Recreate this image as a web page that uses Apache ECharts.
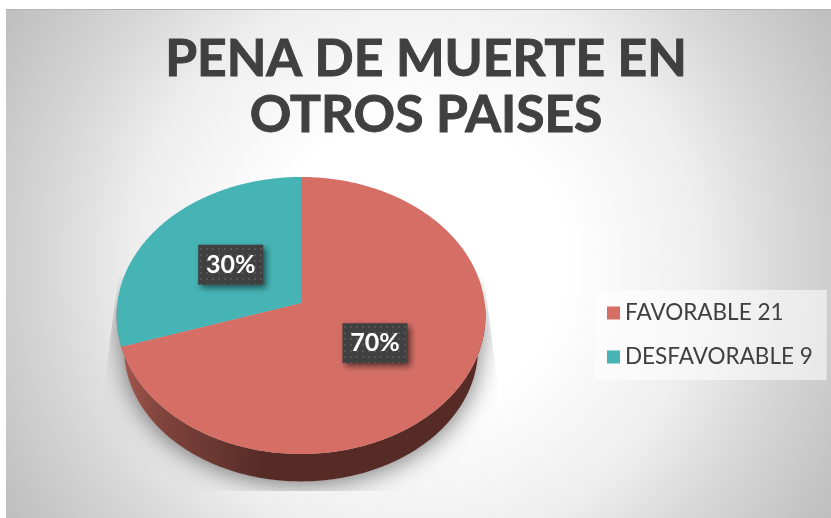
<!DOCTYPE html>
<html>
<head>
<meta charset="utf-8">
<title>PENA DE MUERTE EN OTROS PAISES</title>
<script src="https://cdn.jsdelivr.net/npm/echarts@6/dist/echarts.min.js"></script>
<style>
  html, body { margin: 0; padding: 0; background: #fff; }
  #chart { width: 831px; height: 518px; }
</style>
</head>
<body>
<div id="chart"></div>
<script>
const titleLines = ["PENA DE MUERTE EN", "OTROS PAISES"];
const categories = ["FAVORABLE 21", "DESFAVORABLE 9"];
const values = [21, 9];
const percentLabels = ["70%", "30%"];
const sliceColors = ["#d56f66", "#46b3b5"];

const total = values.reduce((a, b) => a + b, 0);

// tilted disc: cx/cy is the apex, k is the perspective
const disc = { cx: 301, cy: 303, rx: 183.7, ry: 137.4, k: 0.0903, depth: 34, bottomScale: 0.96 };

function project(theta, r, dy) {
  const u = r * Math.sin(theta);
  const v = r * Math.cos(theta);
  const w = 1 + disc.k * v;
  return [disc.cx + disc.rx * u / w, disc.cy - disc.ry * v / w + (dy || 0)];
}

function arcPoints(from, to, dy, r) {
  const pts = [];
  const n = Math.ceil(Math.abs(to - from) * 60);
  for (let i = 0; i <= n; i++) {
    pts.push(project(from + (to - from) * i / n, r || 1, dy));
  }
  return pts;
}

// small dotted tile for the label boxes
const tile = document.createElement("canvas");
tile.width = 6;
tile.height = 6;
const tileCtx = tile.getContext("2d");
tileCtx.fillStyle = "#404040";
tileCtx.fillRect(0, 0, 6, 6);
tileCtx.fillStyle = "#555555";
tileCtx.fillRect(2, 2, 2, 2);

function renderSlice(index) {
  return function (params, api) {
    const before = values.slice(0, index).reduce((a, b) => a + b, 0);
    const from = before / total * Math.PI * 2;
    const to = (before + api.value(0)) / total * Math.PI * 2;
    const mid = project((from + to) / 2, 0.485);
    return {
      type: "group",
      children: [
        {
          type: "polygon",
          shape: { points: [project(0, 0)].concat(arcPoints(from, to)) },
          style: { fill: sliceColors[index] }
        },
        {
          type: "rect",
          shape: { x: mid[0] - 32.5, y: mid[1] - 20, width: 65, height: 40 },
          style: {
            fill: { image: tile, repeat: "repeat" },
            shadowBlur: 6,
            shadowOffsetX: 3,
            shadowOffsetY: 3,
            shadowColor: "rgba(0,0,0,0.55)"
          }
        },
        {
          type: "text",
          x: mid[0],
          y: mid[1],
          style: {
            text: percentLabels[index],
            fill: "#ffffff",
            font: "bold 25px Lato",
            align: "center",
            verticalAlign: "middle"
          }
        }
      ]
    };
  };
}

function renderWall() {
  const outer = arcPoints(Math.PI * 0.5, Math.PI * 1.5, disc.depth, disc.bottomScale);
  return {
    type: "group",
    children: [
      {
        // soft shadow under the disc, cut to the trapezoid of the original
        type: "polygon",
        shape: { points: outer.concat(arcPoints(Math.PI * 1.5, Math.PI * 2.5, 34)) },
        style: { fill: "#bdbdbd", shadowBlur: 26, shadowOffsetY: 2, shadowColor: "rgba(0,0,0,0.55)" },
        clipPath: {
          type: "polygon",
          shape: { points: [[118, 277], [484, 277], [497, 380], [497, 491], [105, 491], [105, 380]] }
        }
      },
      {
        type: "polygon",
        shape: { points: outer.concat(arcPoints(Math.PI * 1.5, Math.PI * 0.5, 0)) },
        style: {
          fill: new echarts.graphic.LinearGradient(0, 0, 1, 0, [
            { offset: 0, color: "#a85a50" },
            { offset: 0.12, color: "#7f443c" },
            { offset: 0.4, color: "#562b26" },
            { offset: 1, color: "#562b26" }
          ])
        }
      }
    ]
  };
}

const chart = echarts.init(document.getElementById("chart"));

const sliceSeries = categories.map((name, i) => ({
  type: "custom",
  name: name,
  coordinateSystem: "none",
  silent: true,
  z: 3,
  itemStyle: { color: sliceColors[i] },
  data: [[values[i]]],
  renderItem: renderSlice(i)
}));

chart.setOption({
  animation: false,
  graphic: [
    {
      type: "rect",
      z: -10,
      silent: true,
      shape: { x: 6, y: 9, width: 825, height: 509 },
      style: {
        fill: new echarts.graphic.RadialGradient(0.5, 0.5, 0.96, [
          { offset: 0, color: "#ffffff" },
          { offset: 0.3, color: "#ffffff" },
          { offset: 0.58, color: "#eeeeee" },
          { offset: 0.75, color: "#d8d8d8" },
          { offset: 1, color: "#bdbdbd" }
        ])
      }
    },
    {
      type: "rect",
      z: -9,
      silent: true,
      shape: { x: 6, y: 9, width: 825, height: 1 },
      style: { fill: "#b4b4b4" }
    }
  ],
  title: {
    text: titleLines.join("\n"),
    left: 421,
    top: 26,
    textAlign: "center",
    textStyle: {
      fontFamily: "Lato",
      fontWeight: "bold",
      fontSize: 51.5,
      lineHeight: 56,
      color: "#404040",
      textBorderColor: "#404040",
      textBorderWidth: 1
    }
  },
  legend: {
    data: categories,
    orient: "vertical",
    left: 595,
    top: 290,
    padding: [10, 14, 10, 12],
    itemGap: 18,
    itemWidth: 13,
    itemHeight: 13,
    icon: "rect",
    selectedMode: false,
    backgroundColor: "rgba(255,255,255,0.55)",
    textStyle: {
      fontFamily: "Lato",
      fontSize: 22.5,
      lineHeight: 26,
      color: "#404040"
    }
  },
  series: [
    {
      type: "custom",
      coordinateSystem: "none",
      silent: true,
      z: 2,
      data: [[total]],
      renderItem: renderWall
    }
  ].concat(sliceSeries)
});
</script>
</body>
</html>
